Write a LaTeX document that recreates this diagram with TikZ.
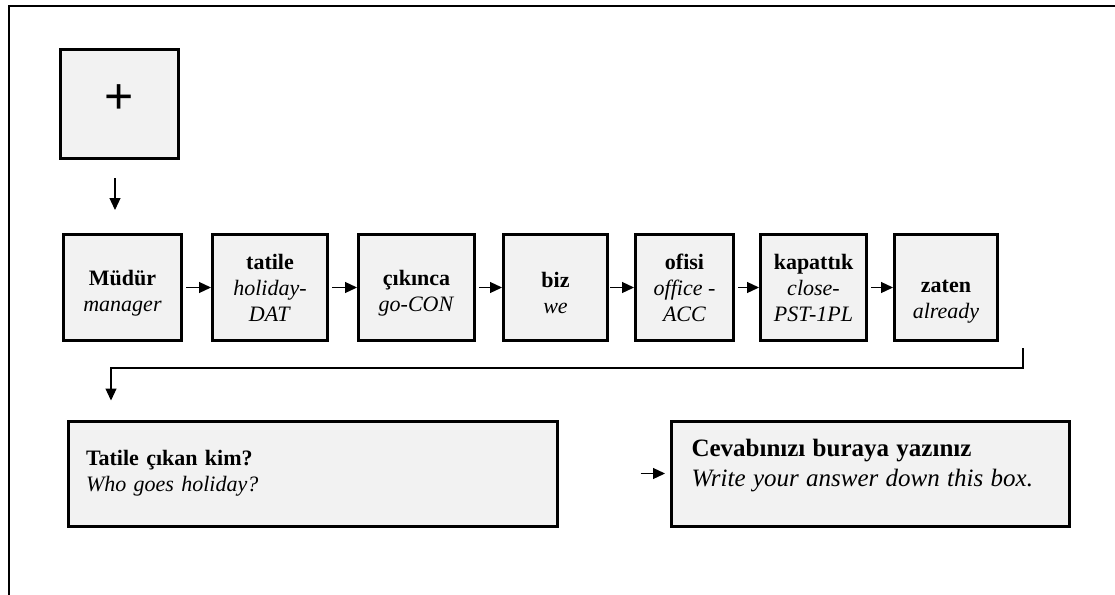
\documentclass[tikz,border=0pt]{standalone}
\usepackage{fontspec}
\setmainfont{Liberation Serif}
\setsansfont{Liberation Sans}
\usetikzlibrary{calc,arrows.meta,positioning}
\definecolor{fondgris}{RGB}{242,242,242}
\newcommand{\descend}[1]{\rule{0pt}{0pt}\\[#1]}

\begin{document}
\begin{tikzpicture}[%
    x=1pt, y=-1pt,%
    boite/.style={draw=black, line width=3pt, fill=fondgris, inner sep=0pt, align=center,%
        minimum height=106, font=\fontsize{22}{26}\selectfont},%
    question/.style={boite, align=left, inner xsep=18pt, minimum height=105},%
    fleche/.style={-{Triangle[length=12pt, width=11pt]}, line width=1.2pt},%
    ]
    \useasboundingbox (0,0) rectangle (1115,594);

    %
    % Définitions
    %
    \pgfmathsetmacro{\yl}{287.5};%
    \pgfmathsetmacro{\yq}{473.5};%
    \pgfmathsetmacro{\xc}{1023};%
    \pgfmathsetmacro{\xg}{111};%

    % Cadre
    \draw[line width=2.6pt] (9,600) -- (9,6) -- (1120,6);

    % Croix de fixation
    \node[boite, minimum width=118, minimum height=109, font=\sffamily\fontsize{50}{50}\selectfont]
        (croix) at (119.5,104) {\raisebox{10pt}{+}};

    % Mots de la phrase
    \node[boite, minimum width=118] (mudur)   at (122.5,\yl) {\descend{1pt}\textbf{Müdür}\\\textit{manager}};
    \node[boite, minimum width=115] (tatile)  at (270,\yl)   {\textbf{tatile}\\\textit{holiday-}\\\textit{DAT}};
    \node[boite, minimum width=116] (cikinca) at (416.5,\yl) {\descend{1pt}\textbf{çıkınca}\\\textit{go-CON}};
    \node[boite, minimum width=104] (biz)     at (555.5,\yl) {\descend{1pt}\textbf{biz}\\\textit{we}};
    \node[boite, minimum width=98]  (ofisi)   at (684.5,\yl) {\textbf{ofisi}\\\textit{office -}\\\textit{ACC}};
    \node[boite, minimum width=106] (kapattik) at (813.5,\yl) {\textbf{kapattık}\\\textit{close-}\\\textit{PST-1PL}};
    \node[boite, minimum width=103] (zaten)   at (946,\yl)   {\descend{15pt}\textbf{zaten}\\\textit{already}};

    % Question et réponse
    \node[question, text width=453] (q1) at (312.5,\yq)
        {\fontsize{22}{29}\selectfont\textbf{Tatile çıkan kim?}\\\textit{Who goes holiday?}};
    \node[question, inner xsep=20pt, text width=358] (q2) at (870.5,474)
        {\fontsize{25}{30}\selectfont\textbf{Cevabınızı buraya yazınız}\\\textit{Write your answer down this box.}\\[-14pt]\strut};

    % Coudes
    \coordinate (zd) at (\xc,348);
    \coordinate (coude) at (\xg,368);

    % Flèches
    \draw[fleche, shorten <=18pt, shorten >=23pt] ([xshift=-4.5pt]croix.south) -- ([xshift=-4.5pt]croix.south |- mudur.north);
    \draw[fleche, shorten <=3pt] (mudur) -- (tatile);
    \draw[fleche, shorten <=3pt] (tatile) -- (cikinca);
    \draw[fleche, shorten <=3pt] (cikinca) -- (biz);
    \draw[fleche, shorten <=1pt] (biz) -- (ofisi);
    \draw[fleche, shorten <=3pt] (ofisi) -- (kapattik);
    \draw[fleche, shorten <=3pt] (kapattik) -- (zaten);
    \draw[fleche, shorten >=19pt] (zd) |- (coude) -- (coude |- q1.north);
    \draw[fleche, shorten <=82pt, shorten >=5pt] (q1.east) -- (q1.east -| q2.west);

\end{tikzpicture}
\end{document}
